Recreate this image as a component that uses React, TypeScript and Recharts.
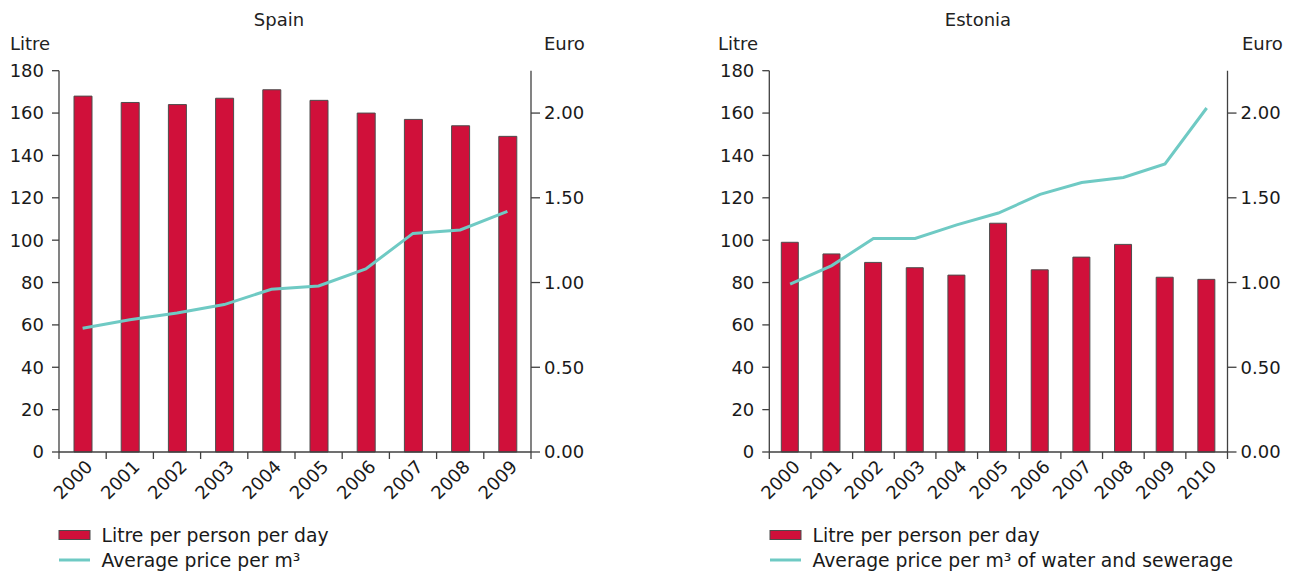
import React from "react";
import { Bar, ComposedChart, Line, XAxis, YAxis } from "recharts";

const FONT = '"DejaVu Sans", Verdana, sans-serif';
const BAR_RED = "#D0103A";
const LINE_TEAL = "#6FCAC4";
const AXIS = "#404040";
const TEXT = "#1a1a1a";

// Spain
const spainYears = ["2000", "2001", "2002", "2003", "2004", "2005", "2006", "2007", "2008", "2009"];
const spainLitres = [168, 165, 164, 167, 171, 166, 160, 157, 154, 149];
const spainPrice = [0.73, 0.78, 0.82, 0.87, 0.96, 0.98, 1.08, 1.29, 1.31, 1.42];

// Estonia
const estoniaYears = ["2000", "2001", "2002", "2003", "2004", "2005", "2006", "2007", "2008", "2009", "2010"];
const estoniaLitres = [99, 93.5, 89.5, 87, 83.5, 108, 86, 92, 98, 82.5, 81.5];
const estoniaPrice = [0.99, 1.1, 1.26, 1.26, 1.34, 1.41, 1.52, 1.59, 1.62, 1.7, 2.03];

const litreTicks = [0, 20, 40, 60, 80, 100, 120, 140, 160, 180];
const euroTicks = [0, 0.5, 1, 1.5, 2];

const barLabel = "Litre per person per day";
const spainLineLabel = "Average price per m³";
const estoniaLineLabel = "Average price per m³ of water and sewerage";

function YearTick(props: any) {
  const { x, y, payload, index, band, count } = props;
  const half = band / 2;
  const tx = x + 11;
  const ty = y + 16;
  return (
    <g>
      <line x1={x - half} x2={x - half} y1={y} y2={y + 7} stroke={AXIS} strokeWidth={1.3} />
      {index === count - 1 && (
        <line x1={x + half} x2={x + half} y1={y} y2={y + 7} stroke={AXIS} strokeWidth={1.3} />
      )}
      <text
        x={tx}
        y={ty}
        textAnchor="end"
        transform={`rotate(-45, ${tx}, ${ty})`}
        fontSize={18}
        fontFamily={FONT}
        fill={TEXT}
      >
        {payload.value}
      </text>
    </g>
  );
}

type PanelProps = {
  left: number;
  width: number;
  leftAxisWidth: number;
  marginRight: number;
  barSize: number;
  years: string[];
  litres: number[];
  price: number[];
};

function Panel({ left, width, leftAxisWidth, marginRight, barSize, years, litres, price }: PanelProps) {
  const data = years.map((year, i) => ({ year, litres: litres[i], price: price[i] }));
  const plotWidth = width - leftAxisWidth - 60 - marginRight;
  const band = plotWidth / years.length;
  const tickStyle = { fill: TEXT, fontSize: 18, fontFamily: FONT };

  return (
    <div style={{ position: "absolute", left, top: 0 }}>
      <ComposedChart width={width} height={574} data={data} margin={{ top: 70.7, right: marginRight, bottom: 62, left: 0 }}>
        <XAxis
          dataKey="year"
          interval={0}
          height={60}
          stroke={AXIS}
          strokeWidth={1.3}
          tickLine={false}
          tickSize={0}
          tickMargin={0}
          tick={<YearTick band={band} count={years.length} />}
        />
        <YAxis
          yAxisId="l"
          domain={[0, 180]}
          ticks={litreTicks}
          width={leftAxisWidth}
          stroke={AXIS}
          strokeWidth={1.3}
          tickSize={7}
          tickMargin={8}
          tick={tickStyle}
        />
        <YAxis
          yAxisId="r"
          orientation="right"
          domain={[0, 2.25]}
          ticks={euroTicks}
          width={60}
          stroke={AXIS}
          strokeWidth={1.3}
          tickSize={9}
          tickMargin={4}
          tick={tickStyle}
          tickFormatter={(v: number) => v.toFixed(2)}
        />
        <Bar yAxisId="l" dataKey="litres" fill={BAR_RED} stroke="#4d4d4d" strokeWidth={1} barSize={barSize} isAnimationActive={false} />
        <Line yAxisId="r" type="linear" dataKey="price" stroke={LINE_TEAL} strokeWidth={3} dot={false} isAnimationActive={false} />
      </ComposedChart>
    </div>
  );
}

function Legend({ x, lineLabel }: { x: number; lineLabel: string }) {
  return (
    <g fontFamily={FONT} fontSize={18.8} fill={TEXT}>
      <rect x={x} y={530.5} width={31} height={9} fill={BAR_RED} stroke="#4d4d4d" strokeWidth={1} />
      <text x={x + 42.5} y={541.5}>{barLabel}</text>
      <line x1={x} x2={x + 31} y1={560} y2={560} stroke={LINE_TEAL} strokeWidth={3} />
      <text x={x + 42.5} y={566.5}>{lineLabel}</text>
    </g>
  );
}

export default function App() {
  return (
    <div style={{ position: "absolute", left: 0, top: 0, width: 1293, height: 574, background: "#fff" }}>
      <Panel left={0} width={640} leftAxisWidth={59} marginRight={49} barSize={18} years={spainYears} litres={spainLitres} price={spainPrice} />
      <Panel left={700} width={593} leftAxisWidth={69.3} marginRight={5.5} barSize={17} years={estoniaYears} litres={estoniaLitres} price={estoniaPrice} />
      <svg width={1293} height={574} style={{ position: "absolute", left: 0, top: 0, pointerEvents: "none" }}>
        <g fontFamily={FONT} fontSize={18} fill="#222">
          <text x={279} y={26} textAnchor="middle">Spain</text>
          <text x={978} y={26} textAnchor="middle">Estonia</text>
          <text x={10} y={50}>Litre</text>
          <text x={544} y={50}>Euro</text>
          <text x={718} y={50}>Litre</text>
          <text x={1242} y={50}>Euro</text>
        </g>
        <Legend x={59} lineLabel={spainLineLabel} />
        <Legend x={770} lineLabel={estoniaLineLabel} />
      </svg>
    </div>
  );
}
